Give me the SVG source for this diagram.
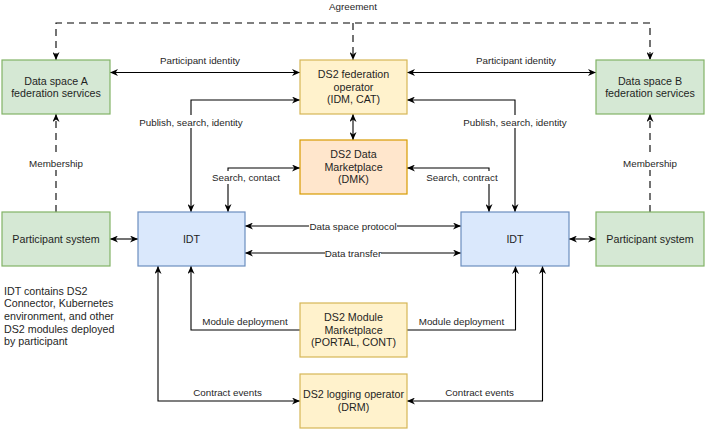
<svg xmlns="http://www.w3.org/2000/svg" width="707" height="431" viewBox="0 0 707 431">
<style>
text{font-family:"Liberation Sans",Arial,Helvetica,sans-serif;fill:#1f1f1f}
.n{font-size:10.7px;text-anchor:middle}
.l{font-size:9.8px;text-anchor:middle}
.note{font-size:10.7px}
.g{fill:#d5e8d4;stroke:#82b366;stroke-width:1.2}
.y{fill:#fff2cc;stroke:#d6b656;stroke-width:1.2}
.o{fill:#ffe6cc;stroke:#d79b00;stroke-width:1.2}
.b{fill:#dae8fc;stroke:#6c8ebf;stroke-width:1.2}
.e{fill:none;stroke:#000;stroke-width:1.1}
.d{stroke-dasharray:7 5}
.s{marker-start:url(#ar)}
.t{marker-end:url(#ar)}
.bg{fill:#fff}
</style>
<defs>
<marker id="ar" viewBox="0 0 10 10" refX="10" refY="5" markerWidth="8" markerHeight="7" markerUnits="userSpaceOnUse" orient="auto-start-reverse" preserveAspectRatio="none">
<path d="M0,0 L10,5 L0,10 L3,5 Z" fill="#000"/>
</marker>
</defs>
<g id="connectors">
<path class="e d s t" d="M56,60 L56,23 L650,23 L650,60"/>
<path class="e d t" d="M353,23 L353,60"/>
<path class="e s t" d="M110,72.5 L300,72.5"/>
<path class="e s t" d="M407,72.5 L596,72.5"/>
<path class="e s t" d="M191,212 L191,100 L300,100"/>
<path class="e s t" d="M407,100 L515,100 L515,212"/>
<path class="e s t" d="M353,114 L353,140"/>
<path class="e s t" d="M228,212 L228,168 L300,168"/>
<path class="e s t" d="M407,168 L489,168 L489,212"/>
<path class="e s t" d="M245,226 L461,226"/>
<path class="e s t" d="M245,253 L461,253"/>
<path class="e s t" d="M110,239 L138,239"/>
<path class="e s t" d="M569,239 L596,239"/>
<path class="e d t" d="M56,212 L56,114"/>
<path class="e d t" d="M650,212 L650,114"/>
<path class="e t" d="M300,330 L191,330 L191,266"/>
<path class="e t" d="M407,330 L515.5,330 L515.5,266"/>
<path class="e s t" d="M300,401 L158,401 L158,266"/>
<path class="e s t" d="M407,401 L542.5,401 L542.5,266"/>
<text class="l" x="353" y="9.5">Agreement</text>
<text class="l" x="200" y="63.5">Participant identity</text>
<text class="l" x="516" y="63.5">Participant identity</text>
<rect class="bg" x="139" y="115" width="104" height="13"/>
<text class="l" x="191" y="125.5">Publish, search, identity</text>
<rect class="bg" x="463" y="115" width="104" height="13"/>
<text class="l" x="515" y="125.5">Publish, search, identity</text>
<rect class="bg" x="212" y="171" width="68" height="13"/>
<text class="l" x="246" y="180.5">Search, contact</text>
<rect class="bg" x="426" y="171" width="72" height="13"/>
<text class="l" x="462" y="180.5">Search, contract</text>
<rect class="bg" x="309" y="220" width="88" height="12"/>
<text class="l" x="353" y="229.5">Data space protocol</text>
<rect class="bg" x="325" y="247" width="56" height="12"/>
<text class="l" x="353" y="256.5">Data transfer</text>
<rect class="bg" x="28" y="157" width="56" height="13"/>
<text class="l" x="56" y="166.5">Membership</text>
<rect class="bg" x="622" y="157" width="56" height="13"/>
<text class="l" x="650" y="166.5">Membership</text>
<text class="l" x="245" y="324.5">Module deployment</text>
<text class="l" x="461.5" y="324.5">Module deployment</text>
<text class="l" x="227.5" y="395.5">Contract events</text>
<text class="l" x="479.5" y="395.5">Contract events</text>
</g>
<g id="ds-a">
<rect class="g" x="2" y="60" width="108" height="54"/>
<text class="n" x="56" y="84.5">Data space A</text>
<text class="n" x="56" y="97.2">federation services</text>
</g>
<g id="fed-op">
<rect class="y" x="300" y="60" width="107" height="54"/>
<text class="n" x="353.5" y="78">DS2 federation</text>
<text class="n" x="353.5" y="90.7">operator</text>
<text class="n" x="353.5" y="103.4">(IDM, CAT)</text>
</g>
<g id="ds-b">
<rect class="g" x="596" y="60" width="108" height="54"/>
<text class="n" x="650" y="84.5">Data space B</text>
<text class="n" x="650" y="97.2">federation services</text>
</g>
<g id="dmk">
<rect class="o" x="300" y="140" width="107" height="54"/>
<text class="n" x="353.5" y="158">DS2 Data</text>
<text class="n" x="353.5" y="170.7">Marketplace</text>
<text class="n" x="353.5" y="183.4">(DMK)</text>
</g>
<g id="participant-a">
<rect class="g" x="2" y="212" width="108" height="54"/>
<text class="n" x="56" y="242.8">Participant system</text>
</g>
<g id="idt-a">
<rect class="b" x="138" y="212" width="107" height="54"/>
<text class="n" x="191.5" y="242.8">IDT</text>
</g>
<g id="idt-b">
<rect class="b" x="461" y="212" width="108" height="54"/>
<text class="n" x="515" y="242.8">IDT</text>
</g>
<g id="participant-b">
<rect class="g" x="596" y="212" width="108" height="54"/>
<text class="n" x="650" y="242.8">Participant system</text>
</g>
<g id="module-marketplace">
<rect class="y" x="300" y="303" width="107" height="54"/>
<text class="n" x="353.5" y="321">DS2 Module</text>
<text class="n" x="353.5" y="333.7">Marketplace</text>
<text class="n" x="353.5" y="346.4">(PORTAL, CONT)</text>
</g>
<g id="logging-operator">
<rect class="y" x="300" y="374" width="107" height="54"/>
<text class="n" x="353.5" y="398">DS2 logging operator</text>
<text class="n" x="353.5" y="410.7">(DRM)</text>
</g>
<g id="note">
<text class="note" x="4" y="294.5">IDT contains DS2</text>
<text class="note" x="4" y="307.1">Connector, Kubernetes</text>
<text class="note" x="4" y="319.8">environment, and other</text>
<text class="note" x="4" y="332.5">DS2 modules deployed</text>
<text class="note" x="4" y="344.8">by participant</text>
</g>
</svg>
